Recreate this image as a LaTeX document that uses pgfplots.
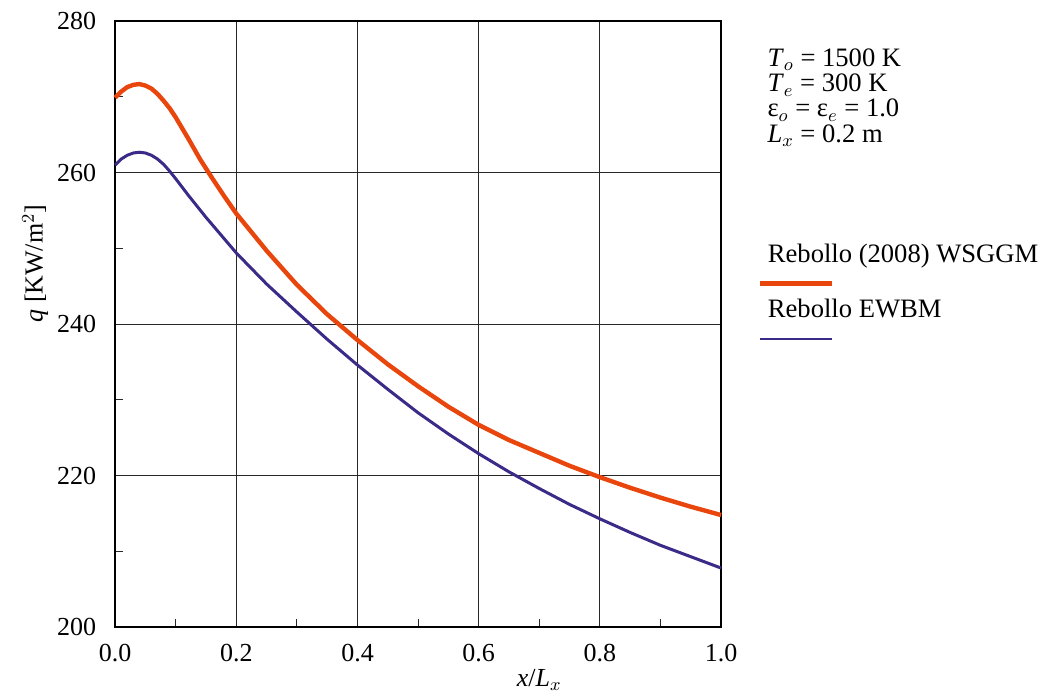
\documentclass[border=0pt]{standalone}
\usepackage{pgfplots}
\pgfplotsset{compat=1.18}
\usepackage{fontspec}
\setmainfont{Liberation Serif}
\definecolor{wsggm}{RGB}{232,70,12}
\definecolor{ewbm}{RGB}{60,42,136}
\definecolor{gridc}{RGB}{40,40,40}

\begin{document}
\begin{tikzpicture}
\begin{axis}[
    name=main,
    clip=false,
    scale only axis,
    width=303pt, height=303pt,
    xmin=0, xmax=1, ymin=200, ymax=280,
    xtick={0,0.2,...,1.0},
    ytick={200,220,...,280},
    minor xtick={0.1,0.3,...,0.9},
    minor ytick={210,230,...,270},
    grid=major,
    major grid style={gridc, line width=0.5pt},
    axis line style={black, line width=0.8pt},
    tick align=inside,
    xtick pos=bottom, ytick pos=left,
    major tick length=0pt,
    minor tick length=4pt,
    minor tick style={gridc, line width=0.5pt},
    tick label style={font=\fontsize{13}{15}\selectfont},
    /pgf/number format/assume math mode=true,
    xticklabel style={yshift=-5pt, /pgf/number format/.cd, fixed, fixed zerofill, precision=1},
    yticklabel style={xshift=-6pt, /pgf/number format/.cd, fixed, precision=0},
    xlabel={\textit{x}/\textit{L}$_x$},
    ylabel={\textit{q} [KW/m$^2$]},
    label style={font=\fontsize{13}{15}\selectfont},
    xlabel style={at={(axis description cs:0.70,-0.087)}, anchor=center},
    ylabel style={at={(axis description cs:-0.132,0.6)}, anchor=center},
    legend style={at={(axis description cs:1.07,0.64)}, anchor=north west,
        draw=none, fill=none, font=\fontsize{13.3}{15}\selectfont,
        row sep=13pt, inner sep=0pt},
    legend cell align=left,
    legend image code/.code={\draw[#1, overlay] (-2pt,-14.5pt) -- (34pt,-14.5pt);},
]
\addplot[wsggm, line width=2.2pt, legend image post style={line width=2.6pt}] coordinates {
    (0.000,269.9) (0.010,270.7) (0.020,271.3) (0.030,271.6) (0.040,271.7)
    (0.050,271.5) (0.060,271.1) (0.070,270.4) (0.080,269.5) (0.090,268.5)
    (0.100,267.3) (0.120,264.6) (0.140,261.8) (0.160,259.3) (0.180,256.9)
    (0.200,254.6) (0.250,249.7) (0.300,245.2) (0.350,241.3) (0.400,237.9)
    (0.450,234.7) (0.500,231.8) (0.550,229.1) (0.600,226.7) (0.650,224.7)
    (0.700,223.0) (0.750,221.3) (0.800,219.8) (0.850,218.4) (0.900,217.1)
    (0.950,215.9) (1.000,214.8)
};
\addlegendentry{Rebollo (2008) WSGGM}
\addplot[ewbm, line width=1.5pt, legend image post style={line width=0.6pt}] coordinates {
    (0.000,261.0) (0.010,261.8) (0.020,262.3) (0.030,262.6) (0.040,262.7)
    (0.050,262.6) (0.060,262.3) (0.070,261.8) (0.080,261.1) (0.090,260.2)
    (0.100,259.2) (0.120,257.1) (0.150,254.1) (0.200,249.4) (0.250,245.3)
    (0.300,241.6) (0.350,238.0) (0.400,234.6) (0.450,231.4) (0.500,228.3)
    (0.550,225.5) (0.600,222.9) (0.650,220.5) (0.700,218.3) (0.750,216.2)
    (0.800,214.3) (0.850,212.5) (0.900,210.8) (0.950,209.3) (1.000,207.8)
};
\addlegendentry{Rebollo EWBM}
\node[anchor=north west, align=left, inner sep=0pt,
      font=\fontsize{13.3}{12.6}\selectfont]
    at (axis description cs:1.076,0.955)
    {\textit{T}$_o$ = 1500 K\\ \textit{T}$_e$ = 300 K\\ ε$_o$ = ε$_e$ = 1.0\\ \textit{L}$_x$ = 0.2 m};
\coordinate (bl) at (axis description cs:-0.19,-0.104);
\coordinate (tr) at (axis description cs:1.523,1.035);
\end{axis}
\pgfresetboundingbox
\path[use as bounding box] (bl) rectangle (tr);
\end{tikzpicture}
\end{document}
